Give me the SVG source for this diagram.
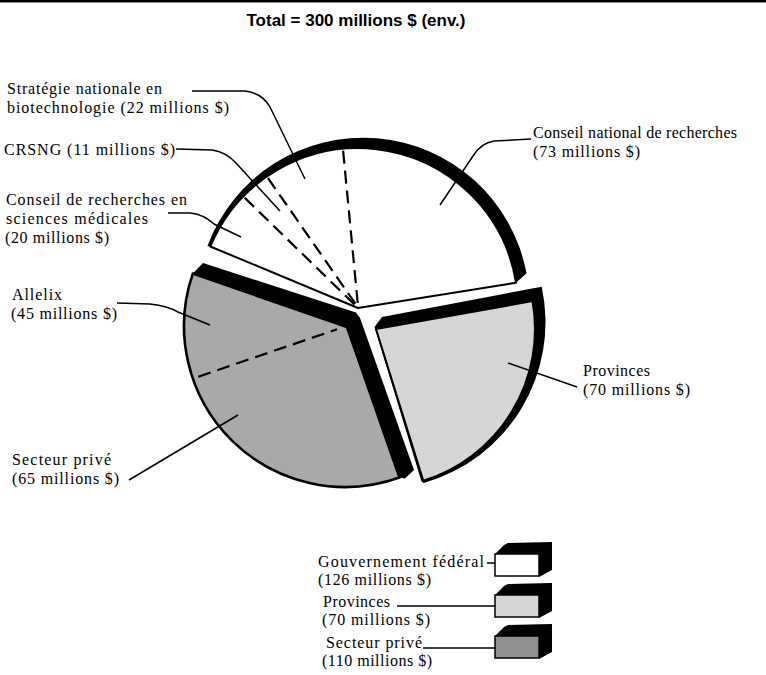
<svg xmlns="http://www.w3.org/2000/svg" width="766" height="675" viewBox="0 0 766 675">
<style>
.lbl{font-family:"Liberation Serif","Times New Roman",serif;font-size:16px;fill:#000}
.title{font-family:"Liberation Sans",Arial,sans-serif;font-size:17px;font-weight:bold;fill:#000}
.lead{fill:none;stroke:#000;stroke-width:1.5}
.dash{fill:none;stroke:#000;stroke-width:2.2;stroke-dasharray:13 7}
.band{fill:#000}
.edge{stroke:#000;stroke-width:2;stroke-linejoin:round}
.light{fill:#d6d6d6}
.dark{fill:#a9a9a9}
</style>
<rect width="766" height="675" fill="#fff"/>
<line x1="0" y1="1.2" x2="766" y2="1.2" stroke="#000" stroke-width="2.5"/>
<text class="title" x="356" y="26" text-anchor="middle">Total = 300 millions $ (env.)</text>

<g id="slice-federal">
<path class="band" d="M207.4,246.2 A166.1,166.1 0 0 1 526.5,273.3 L516,282.8 A160,160 0 0 0 210.3,246.5 Z"/>
<path class="edge" fill="#fff" d="M358,308 L516,282.8 A160,160 0 0 0 210.3,246.5 Z"/>
<path class="dash" d="M343.1,150.7 L358,306"/>
<path class="dash" d="M268,178.1 L357,306"/>
<path class="dash" d="M244.7,197.8 L356,306"/>
</g>

<g id="slice-provinces">
<path class="band" d="M374.5,327 L382,317 L541.7,286.7 A167.2,167.2 0 0 1 423.8,483 L421.5,481.5 Z"/>
<path class="edge light" d="M376,329 L532.5,301.1 A159,159 0 0 1 423.3,480.8 Z"/>
</g>

<g id="slice-private">
<path class="dark" stroke="#000" stroke-width="2.6" stroke-linejoin="round" d="M347,327 L192.8,273.6 A161,161 0 0 0 399.5,477.5 Z"/>
<path class="band" d="M192.8,273.6 L203,263 L356,312.5 L360,318 L414,470 L405,478.5 L399.5,477.5 L348,330 L345,326 Z"/>
<path class="dash" d="M198.3,376.7 L337,329.3"/>
</g>

<g id="label-strategie"><text class="lbl" x="7" y="94" textLength="155">Stratégie nationale en</text><text class="lbl" x="7" y="113" textLength="222">biotechnologie (22 millions $)</text></g>
<g id="label-crsng"><text class="lbl" x="4" y="155" textLength="171">CRSNG (11 millions $)</text></g>
<g id="label-crsm"><text class="lbl" x="6" y="205" textLength="181">Conseil de recherches en</text><text class="lbl" x="6" y="224" textLength="142">sciences médicales</text><text class="lbl" x="5" y="243" textLength="104">(20 millions $)</text></g>
<g id="label-cnrc"><text class="lbl" x="533" y="138" textLength="204">Conseil national de recherches</text><text class="lbl" x="533" y="157" textLength="107">(73 millions $)</text></g>
<g id="label-allelix"><text class="lbl" x="12" y="300" textLength="50">Allelix</text><text class="lbl" x="11" y="319" textLength="106">(45 millions $)</text></g>
<g id="label-provinces"><text class="lbl" x="583" y="376" textLength="67">Provinces</text><text class="lbl" x="583" y="395" textLength="107">(70 millions $)</text></g>
<g id="label-prive"><text class="lbl" x="12" y="465" textLength="99">Secteur privé</text><text class="lbl" x="12" y="484" textLength="107">(65 millions $)</text></g>

<g id="connectors">
<path class="lead" d="M192,91 L245,91 Q262,93 270,107 L305,179"/>
<path class="lead" d="M176,149 L212,150 Q226,152 236,163 L280,211"/>
<path class="lead" d="M168,213 L190,213 Q203,214 214,224 L241,237"/>
<path class="lead" d="M531,139 L494,141 Q481,143 473,156 L440,205"/>
<path class="lead" d="M117,303 L150,304 Q168,306 178,312 L210,325"/>
<path class="lead" d="M129,480 L238,415"/>
<path class="lead" d="M577,387 L508,363"/>
<path class="lead" d="M487,563 L495,563"/>
<path class="lead" d="M397,606 L495,606"/>
<path class="lead" d="M423,648 L495,648"/>
</g>

<g id="legend-federal">
<path class="band" d="M495,554 L504,545 L508,543 L552,542 L552,570 L539,577 L539,554 Z"/>
<rect x="495" y="554" width="44" height="22" fill="#fff" stroke="#000" stroke-width="1.5"/>
<text class="lbl" x="318" y="567" textLength="166">Gouvernement fédéral</text><text class="lbl" x="318" y="585" textLength="113">(126 millions $)</text>
</g>
<g id="legend-provinces">
<path class="band" d="M495,595 L504,586 L508,584 L552,583 L552,611 L539,618 L539,595 Z"/>
<rect x="495" y="595" width="44" height="22" class="light" stroke="#000" stroke-width="1.5"/>
<text class="lbl" x="323" y="607" textLength="67">Provinces</text><text class="lbl" x="322" y="625" textLength="108">(70 millions $)</text>
</g>
<g id="legend-prive">
<path class="band" d="M495,636 L504,627 L508,625 L552,624 L552,652 L539,659 L539,636 Z"/>
<rect x="495" y="636" width="44" height="22" fill="#8f8f8f" stroke="#000" stroke-width="1.5"/>
<text class="lbl" x="326" y="648" textLength="96">Secteur privé</text><text class="lbl" x="322" y="666" textLength="110">(110 millions $)</text>
</g>
</svg>
